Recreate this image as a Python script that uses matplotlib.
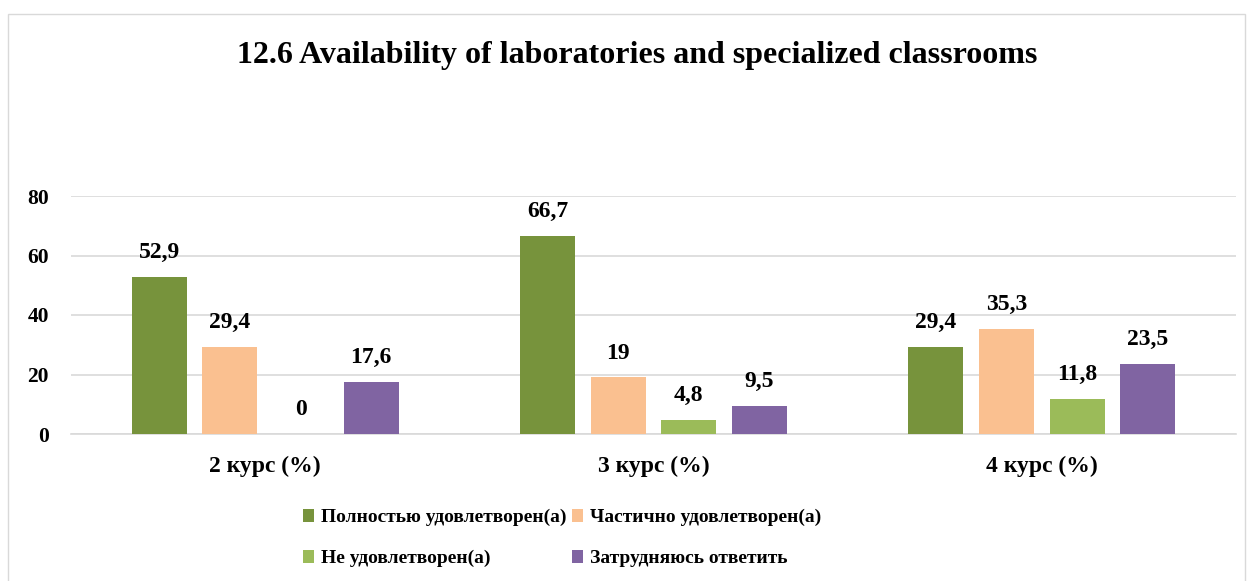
import numpy as np
import matplotlib.pyplot as plt
from matplotlib.patches import Rectangle

# Data
courses = ['2 курс (%)', '3 курс (%)', '4 курс (%)']
series_names = ['Полностью удовлетворен(а)', 'Частично удовлетворен(а)',
                'Не удовлетворен(а)', 'Затрудняюсь ответить']
full_sat = [52.9, 66.7, 29.4]
part_sat = [29.4, 19, 35.3]
not_sat = [0, 4.8, 11.8]
hard_say = [17.6, 9.5, 23.5]
colors = ['#77933C', '#FAC090', '#9BBB59', '#8064A2']

plt.rcParams['font.family'] = ['Liberation Serif', 'DejaVu Serif']
plt.rcParams['font.weight'] = 'bold'

fig = plt.figure(figsize=(12.52, 5.81), dpi=100)
# chart border
fig.patches.append(Rectangle((8 / 1252, -0.05), 1245 / 1252 - 8 / 1252, 1.05 - 14 / 581,
                             transform=fig.transFigure, fill=False,
                             edgecolor='#D9D9D9', linewidth=1))

ax = fig.add_axes([71 / 1252, 1 - 434 / 581, (1236 - 71) / 1252, (434 - 196) / 581])

x = np.arange(len(courses))
step = 0.182
width = 0.142
values = [full_sat, part_sat, not_sat, hard_say]
handles = []
for i, (vals, col, name) in enumerate(zip(values, colors, series_names)):
    pos = x + (i - 1.5) * step
    bars = ax.bar(pos, vals, width, color=col, label=name, zorder=3)
    handles.append(bars)
    for b, v in zip(bars, vals):
        txt = ('%g' % v).replace('.', ',')
        ax.annotate(txt, (b.get_x() + b.get_width() / 2, v), xytext=(0, 10),
                    textcoords='offset points', ha='center', va='bottom',
                    fontsize=17, fontweight='bold')

ax.set_xlim(-0.5, 2.5)
ax.set_ylim(0, 80)
ax.set_yticks([0, 20, 40, 60, 80])
ax.yaxis.grid(True, color='#D9D9D9', linewidth=1.2, zorder=0)
ax.set_xticks(x)
ax.set_xticklabels(courses, fontsize=17)
ax.tick_params(axis='both', length=0)
ax.tick_params(axis='y', labelsize=15.5, pad=16)
ax.tick_params(axis='x', pad=16)
for s in ['top', 'right', 'left']:
    ax.spines[s].set_visible(False)
ax.spines['bottom'].set_color('#D9D9D9')
ax.spines['bottom'].set_linewidth(1.2)

fig.text(0.509, 1 - 55 / 581, '12.6 Availability of laboratories and specialized classrooms',
         ha='center', va='center', fontsize=23, fontweight='bold')

# row-wise legend order: full, part / not, hard
order = [0, 2, 1, 3]
leg = fig.legend([handles[k] for k in order], [series_names[k] for k in order],
                 loc='center', bbox_to_anchor=(562 / 1252, 1 - 538 / 581), ncol=2,
                 frameon=False, fontsize=14, handlelength=0.55, handleheight=0.7,
                 handletextpad=0.35, columnspacing=0.3, labelspacing=1.2)

fig.savefig('out.png', dpi=100)
